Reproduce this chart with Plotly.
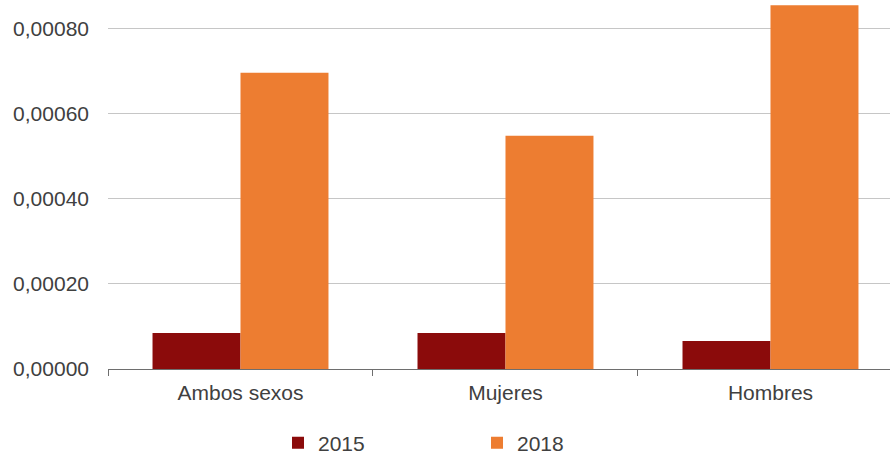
import plotly.graph_objects as go

categories = ["Ambos sexos", "Mujeres", "Hombres"]
series_names = ["2015", "2018"]
values_2015 = [0.0000847, 0.0000847, 0.0000659]
values_2018 = [0.000697, 0.000549, 0.000856]
colors = ["#8B0B0B", "#ED7D31"]

fig = go.Figure()
for name, vals, col in zip(series_names, [values_2015, values_2018], colors):
    fig.add_trace(go.Bar(x=categories, y=vals, name=name, marker=dict(color=col, line=dict(width=0))))

fig.update_layout(
    width=890, height=457,
    margin=dict(l=108, r=0, t=3, b=88, autoexpand=False),
    paper_bgcolor="white", plot_bgcolor="white",
    barmode="group", bargap=0.336, bargroupgap=0,
    separators=",.",
    font=dict(family="Liberation Sans, Arial, sans-serif", size=21, color="#404040"),
    showlegend=True,
    legend=dict(orientation="h", x=0.2174, xanchor="left",
                yref="container", y=14 / 457, yanchor="middle",
                entrywidth=154, font=dict(size=21, color="#404040"), itemwidth=30,
                borderwidth=0, bgcolor="rgba(0,0,0,0)"),
)
fig.update_xaxes(
    range=[-0.5, 2.451], showline=True, linecolor="#6E6E6E", linewidth=1,
    ticks="outside", tickson="boundaries", ticklen=6, tickcolor="#6E6E6E",
    showgrid=False, ticklabelstandoff=5, automargin=False,
)
fig.update_yaxes(
    range=[0, 0.000861], tickvals=[0, 0.0002, 0.0004, 0.0006, 0.0008],
    tickformat=".5f", showgrid=True, gridcolor="#C6C6C6", gridwidth=1,
    zeroline=False, showline=False, ticks="", ticklabelstandoff=18, automargin=False,
)
fig.write_html("out.html", config={"displayModeBar": False},
               post_script="document.body.style.margin='0';")
